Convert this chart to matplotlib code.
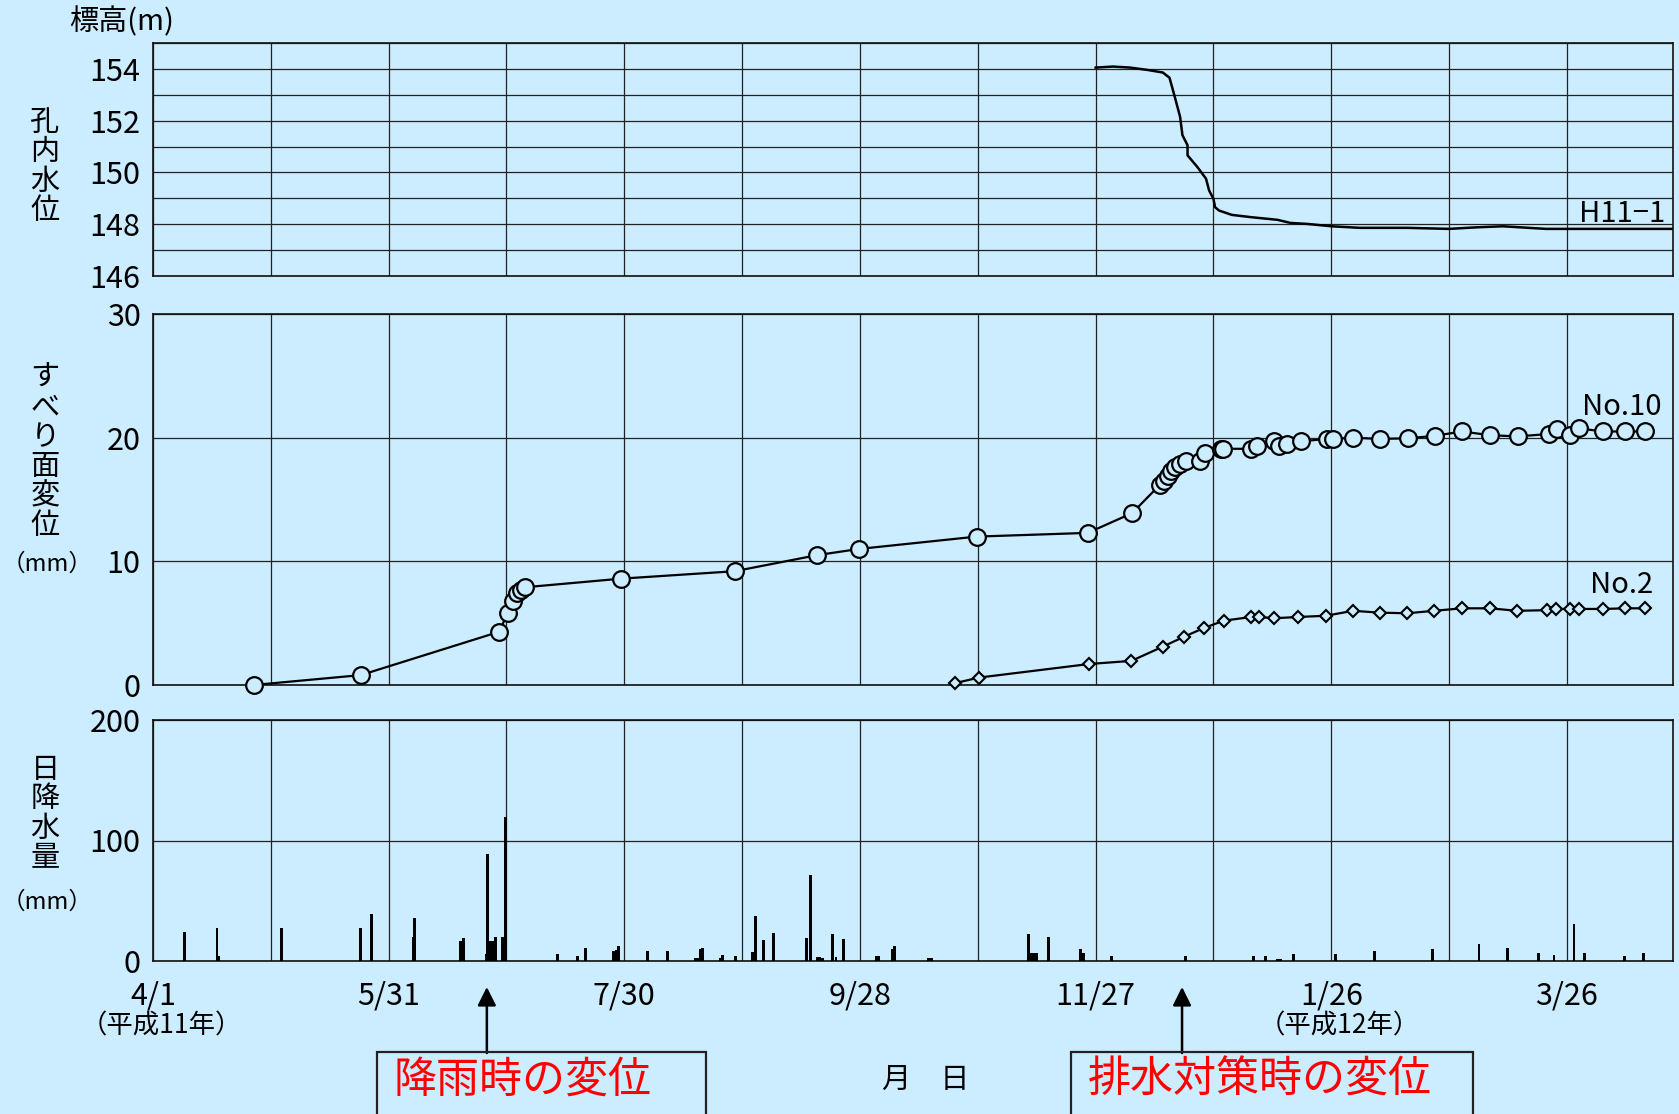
import matplotlib
matplotlib.use("Agg")
import matplotlib.pyplot as plt
from matplotlib.patches import Rectangle

plt.rcParams['font.family'] = ['Noto Sans CJK JP', 'DejaVu Sans']

BG = '#CCECFF'

# x axis: days elapsed since 1999-04-01
date_ticks = [0, 60, 120, 180, 240, 300, 360]
date_labels = ['4/1', '5/31', '7/30', '9/28', '11/27', '1/26', '3/26']

# borehole water level H11-1 (m)
h11_day = [240, 244.4, 248.8, 253.2, 257.1, 258.8, 259.9, 261.5, 262.1, 263.4, 263.4,
           265.9, 268.1, 268.9, 270.0, 270.4, 271.4, 274.7, 279.7, 286.3, 289.6, 294.0,
           300.1, 307.3, 319.4, 330.0, 337.0, 343.7, 354.7, 387.0]
h11_level = [154.05, 154.09, 154.05, 153.96, 153.86, 153.66, 153.06, 152.15, 151.44,
             151.05, 150.66, 150.21, 149.76, 149.30, 148.98, 148.66, 148.53, 148.36,
             148.27, 148.17, 148.05, 148.01, 147.92, 147.86, 147.86, 147.82, 147.88,
             147.92, 147.82, 147.82]

# slip-surface displacement (mm)
no10_day = [25.6, 52.9, 88.1, 90.3, 91.6, 92.7, 93.8, 94.6, 119.2, 148.1, 169.1, 179.7,
            209.7, 238.0, 249.3, 256.4, 257.4, 258.3, 259.3, 260.3, 261.4, 263.0, 266.5,
            267.8, 271.8, 272.4, 279.5, 281.2, 285.5, 286.8, 288.8, 292.2, 298.9, 300.5,
            305.6, 312.3, 319.6, 326.3, 333.3, 340.4, 347.5, 355.4, 357.5, 360.7, 363.1,
            369.2, 374.9, 379.9]
no10_disp = [0.0, 0.8, 4.3, 5.8, 6.8, 7.4, 7.7, 7.9, 8.6, 9.2, 10.5, 11.0,
             12.0, 12.3, 13.9, 16.2, 16.5, 16.9, 17.3, 17.6, 17.9, 18.1, 18.1,
             18.8, 19.1, 19.1, 19.1, 19.3, 19.7, 19.35, 19.5, 19.7, 19.9, 19.9,
             20.0, 19.9, 19.95, 20.15, 20.5, 20.2, 20.1, 20.3, 20.7, 20.2, 20.75,
             20.5, 20.5, 20.5]

no2_day = [204.2, 210.3, 238.4, 249.1, 257.1, 262.5, 267.5, 272.6, 279.6, 281.5, 285.5,
           291.6, 298.6, 305.6, 312.3, 319.4, 326.1, 333.3, 340.4, 347.3, 354.8, 357.2,
           360.7, 363.1, 369.2, 374.9, 379.9]
no2_disp = [0.15, 0.6, 1.7, 1.95, 3.1, 3.9, 4.6, 5.2, 5.5, 5.5, 5.4,
            5.5, 5.6, 6.0, 5.85, 5.8, 6.0, 6.2, 6.2, 6.0, 6.05, 6.15,
            6.15, 6.15, 6.15, 6.2, 6.2]

# daily precipitation (mm)
rain_day = [8.1, 16.3, 16.8, 32.6, 52.9, 55.7, 66.2, 66.6, 78.3, 79.0, 84.9, 85.2, 85.9,
            86.4, 87.1, 88.9, 89.7, 102.9, 108.1, 110.1, 117.2, 117.9, 118.5, 126.0,
            130.9, 138.1, 138.6, 139.3, 139.8, 144.5, 145.0, 148.4, 152.7, 153.4, 155.5,
            158.1, 166.4, 167.4, 169.1, 169.7, 170.4, 173.1, 173.9, 175.8, 184.1, 184.7,
            188.3, 188.9, 197.5, 198.2, 223.0, 223.6, 224.3, 225.0, 228.0, 236.1, 236.9,
            244.1, 262.9, 280.1, 283.2, 286.4, 287.1, 290.4, 301.0, 311.1, 325.8, 337.6,
            344.8, 352.7, 356.7, 361.8, 364.5, 374.6, 379.5]
rain_mm = [23.9, 27.4, 4.4, 27.4, 27.4, 39.0, 20.0, 35.4, 16.5, 18.9, 5.5, 89.2, 16.2,
           16.2, 19.8, 19.8, 119.9, 6.0, 4.4, 11.0, 8.2, 9.3, 12.1, 8.2,
           8.2, 2.2, 2.7, 10.2, 11.2, 2.7, 4.7, 4.4, 7.1, 37.6, 17.8,
           23.6, 18.9, 71.3, 3.3, 3.3, 2.5, 22.2, 3.3, 18.4, 4.4, 3.8,
           9.9, 12.1, 2.7, 2.7, 22.4, 6.6, 6.6, 6.6, 19.7, 9.8, 6.6,
           4.4, 3.8, 4.4, 4.4, 1.6, 1.6, 5.7, 5.7, 8.2, 9.6, 14.2,
           10.7, 6.8, 4.9, 31.1, 6.8, 4.4, 6.8]

W, H = 1679, 1114
fig = plt.figure(figsize=(W / 100, H / 100), dpi=100, facecolor=BG)
LEFT, RIGHT = 153, 1673


def panel(top, bottom):
    ax = fig.add_axes([LEFT / W, 1 - bottom / H, (RIGHT - LEFT) / W, (bottom - top) / H])
    ax.set_facecolor(BG)
    ax.set_xlim(0, 387)
    ax.set_xticks(range(0, 361, 30))
    ax.grid(True, color='#222222', linewidth=0.9)
    ax.set_axisbelow(True)
    ax.tick_params(length=0, labelsize=22, pad=9)
    for s in ax.spines.values():
        s.set_color('#111111')
        s.set_linewidth(1.2)
    return ax


ax1 = panel(43, 276)
ax2 = panel(314, 685)
ax3 = panel(720, 961)

# water level panel
ax1.set_ylim(146, 155)
ax1.set_yticks(range(146, 156))
ax1.set_yticklabels([str(v) if v % 2 == 0 and v < 155 else '' for v in range(146, 156)])
ax1.set_xticklabels([])
ax1.plot(h11_day, h11_level, color='black', lw=1.8)
ax1.text(385, 148.4, 'H11−1', fontsize=21, ha='right', va='center')

# displacement panel
ax2.set_ylim(0, 30)
ax2.set_yticks([0, 10, 20, 30])
ax2.set_xticklabels([])
ax2.plot(no10_day, no10_disp, color='black', lw=1.6, marker='o', ms=12,
         mfc=BG, mec='black', mew=1.6, clip_on=False, zorder=3)
ax2.plot(no2_day, no2_disp, color='black', lw=1.6, marker='D', ms=6,
         mfc=BG, mec='black', mew=1.5, clip_on=False, zorder=3)
ax2.text(384, 22.5, 'No.10', fontsize=21, ha='right', va='center')
ax2.text(382, 8.1, 'No.2', fontsize=21, ha='right', va='center')

# precipitation panel
ax3.set_ylim(0, 200)
ax3.set_yticks([0, 100, 200])
ax3.bar(rain_day, rain_mm, width=0.75, color='black', zorder=3)
ax3.set_xticklabels([date_labels[date_ticks.index(t)] if t in date_ticks else ''
                     for t in range(0, 361, 30)])
ax3.tick_params(axis='x', pad=14)

# axis titles
fig.text(122 / W, 1 - 22 / H, '標高(m)', fontsize=21, ha='center', va='center')


def vlabel(text, x, y):
    fig.text(x / W, 1 - y / H, '\n'.join(text), fontsize=21, ha='center', va='center',
             linespacing=0.98)


vlabel('孔内水位', 45, 167)
vlabel('すべり面変位', 45, 452)
fig.text(47 / W, 1 - 564 / H, '（mm）', fontsize=17, ha='center', va='center')
vlabel('日降水量', 45, 814)
fig.text(47 / W, 1 - 902 / H, '（mm）', fontsize=17, ha='center', va='center')

ax3.text(2, -0.27, '（平成11年）', transform=ax3.get_xaxis_transform(), fontsize=19,
         ha='center', va='center')
ax3.text(302, -0.27, '（平成12年）', transform=ax3.get_xaxis_transform(), fontsize=19,
         ha='center', va='center')
fig.text(926 / W, 1 - 1080 / H, '月　日', fontsize=21, ha='center', va='center')

# annotation arrows and boxes
for day in (85, 262):
    ax3.annotate('', xy=(day, 1 - 987 / H), xycoords=('data', 'figure fraction'),
                 xytext=(day, 1 - 1053 / H), textcoords=('data', 'figure fraction'),
                 arrowprops=dict(arrowstyle='-|>', color='black', lw=1.8,
                                 mutation_scale=28, shrinkA=0, shrinkB=0))

for x0, x1 in ((377, 706), (1071, 1473)):
    fig.patches.append(Rectangle((x0 / W, -0.05), (x1 - x0) / W, (1 - 1052 / H) + 0.05,
                                 transform=fig.transFigure, fill=False,
                                 edgecolor='#222222', lw=1.6))

fig.text(394 / W, 1 - 1081 / H, '降雨時の変位', fontsize=31, color='red',
         ha='left', va='center')
fig.text(1088 / W, 1 - 1081 / H, '排水対策時の変位', fontsize=31, color='red',
         ha='left', va='center')

fig.savefig('out.png', dpi=100, facecolor=BG)
